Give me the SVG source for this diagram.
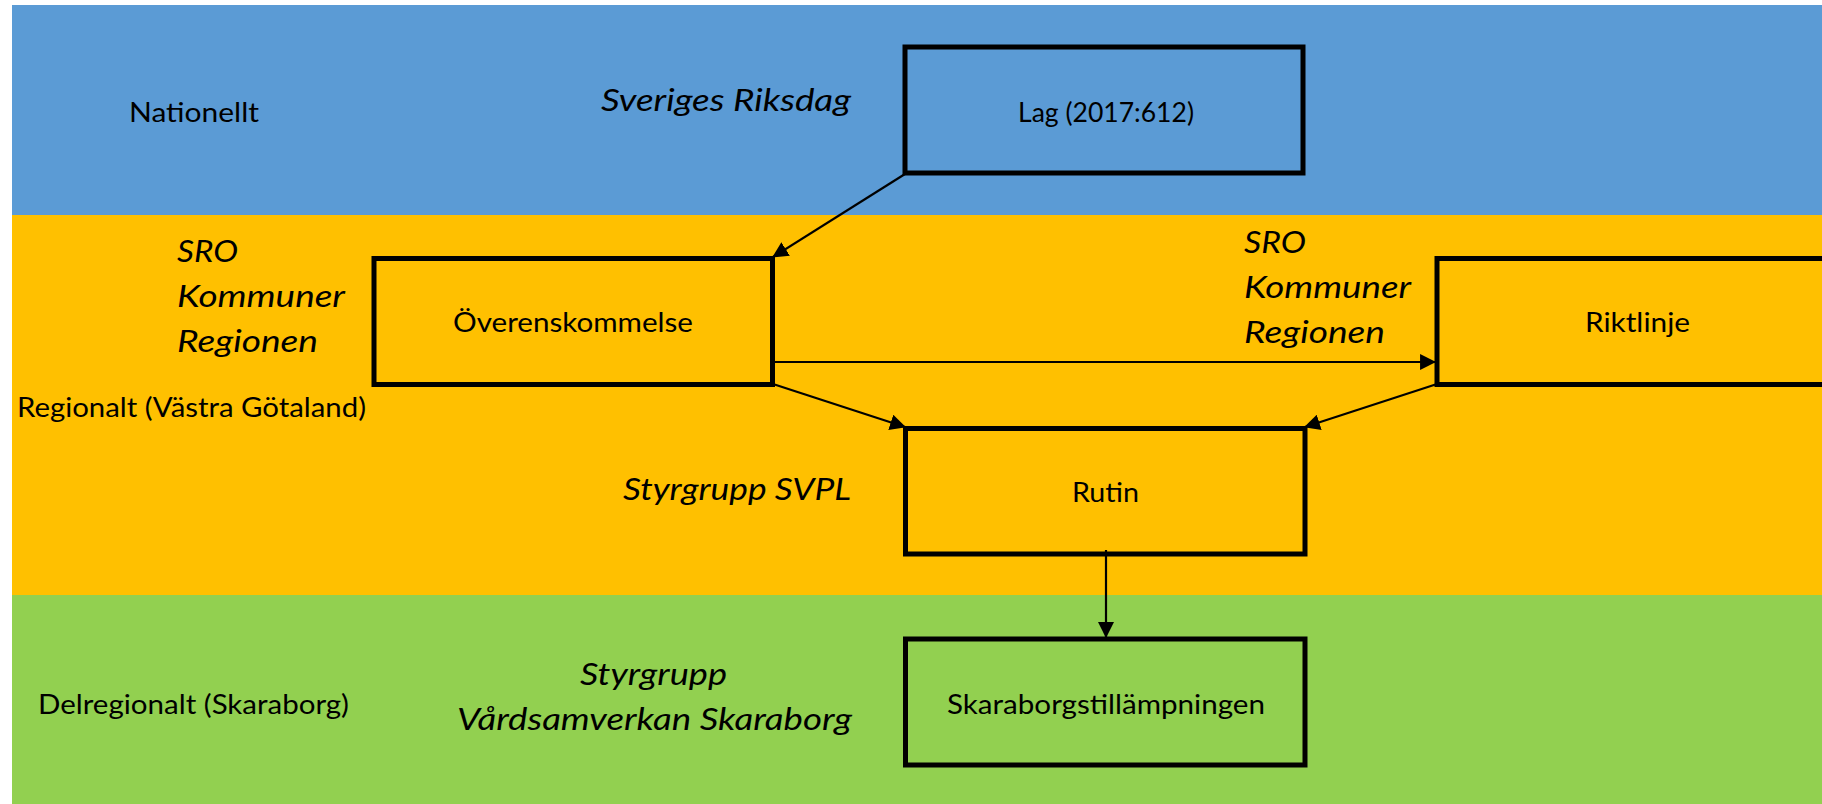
<svg xmlns="http://www.w3.org/2000/svg" width="1822" height="804" viewBox="0 0 1822 804">
<style>
.box{fill:none;stroke:#000;stroke-width:5}
.lbl{font-family:Lato,"Open Sans","Liberation Sans",sans-serif;font-size:26px;fill:#000}
.it{font-family:Lato,"Open Sans","Liberation Sans",sans-serif;font-size:31px;font-style:italic;fill:#000}
.con{stroke:#000;stroke-width:2.2;fill:none;marker-end:url(#ah)}
</style>
<defs>
<marker id="ah" markerUnits="userSpaceOnUse" markerWidth="16" markerHeight="16" viewBox="0 0 15 15" refX="14" refY="7.5" orient="auto">
<path d="M0,0 L15,7.5 L0,15 z" fill="#000"/>
</marker>
</defs>
<rect x="0" y="0" width="1822" height="804" fill="#fff"/>
<g id="bands">
<rect x="12" y="5" width="1810" height="210" fill="#5B9BD5"/>
<rect x="12" y="215" width="1810" height="380" fill="#FFC000"/>
<rect x="12" y="595" width="1810" height="209" fill="#92D050"/>
</g>
<g id="level-labels">
<text class="lbl" x="129" y="122" textLength="130" lengthAdjust="spacingAndGlyphs">Nationellt</text>
<text class="lbl" x="17" y="417" textLength="349" lengthAdjust="spacingAndGlyphs">Regionalt (Västra Götaland)</text>
<text class="lbl" x="38" y="714" textLength="311" lengthAdjust="spacingAndGlyphs">Delregionalt (Skaraborg)</text>
</g>
<g id="actor-labels">
<text class="it" x="601" y="111" textLength="250" lengthAdjust="spacingAndGlyphs">Sveriges Riksdag</text>
<text class="it" x="177" y="262" textLength="61" lengthAdjust="spacingAndGlyphs">SRO</text>
<text class="it" x="177" y="307" textLength="168" lengthAdjust="spacingAndGlyphs">Kommuner</text>
<text class="it" x="177" y="352" textLength="141" lengthAdjust="spacingAndGlyphs">Regionen</text>
<text class="it" x="1244" y="253" textLength="62" lengthAdjust="spacingAndGlyphs">SRO</text>
<text class="it" x="1244" y="298" textLength="167" lengthAdjust="spacingAndGlyphs">Kommuner</text>
<text class="it" x="1244" y="343" textLength="141" lengthAdjust="spacingAndGlyphs">Regionen</text>
<text class="it" x="623" y="500" textLength="228" lengthAdjust="spacingAndGlyphs">Styrgrupp SVPL</text>
<text class="it" x="580" y="685" textLength="147" lengthAdjust="spacingAndGlyphs">Styrgrupp</text>
<text class="it" x="457" y="730" textLength="395" lengthAdjust="spacingAndGlyphs">Vårdsamverkan Skaraborg</text>
</g>
<g id="node-lag">
<rect class="box" x="905" y="47" width="398" height="126"/>
<text class="lbl" x="1018" y="122" textLength="176" lengthAdjust="spacingAndGlyphs">Lag (2017:612)</text>
</g>
<g id="node-overenskommelse">
<rect class="box" x="374" y="258.5" width="398.5" height="126"/>
<text class="lbl" x="453" y="332" textLength="240" lengthAdjust="spacingAndGlyphs">Överenskommelse</text>
</g>
<g id="node-riktlinje">
<rect class="box" x="1437" y="258.5" width="420" height="126"/>
<text class="lbl" x="1585" y="332" textLength="105" lengthAdjust="spacingAndGlyphs">Riktlinje</text>
</g>
<g id="node-rutin">
<rect class="box" x="905.5" y="428.5" width="399.5" height="125.5"/>
<text class="lbl" x="1072" y="502" textLength="67" lengthAdjust="spacingAndGlyphs">Rutin</text>
</g>
<g id="node-skaraborg">
<rect class="box" x="905.5" y="639" width="399.5" height="126"/>
<text class="lbl" x="947" y="714" textLength="318" lengthAdjust="spacingAndGlyphs">Skaraborgstillämpningen</text>
</g>
<g id="connectors">
<line class="con" x1="905" y1="174" x2="773" y2="257"/>
<line class="con" x1="774" y1="362" x2="1435" y2="362"/>
<line class="con" x1="773" y1="384" x2="905" y2="427"/>
<line class="con" x1="1437" y1="384" x2="1305" y2="427"/>
<line class="con" x1="1106" y1="550" x2="1106" y2="637"/>
</g>
</svg>
